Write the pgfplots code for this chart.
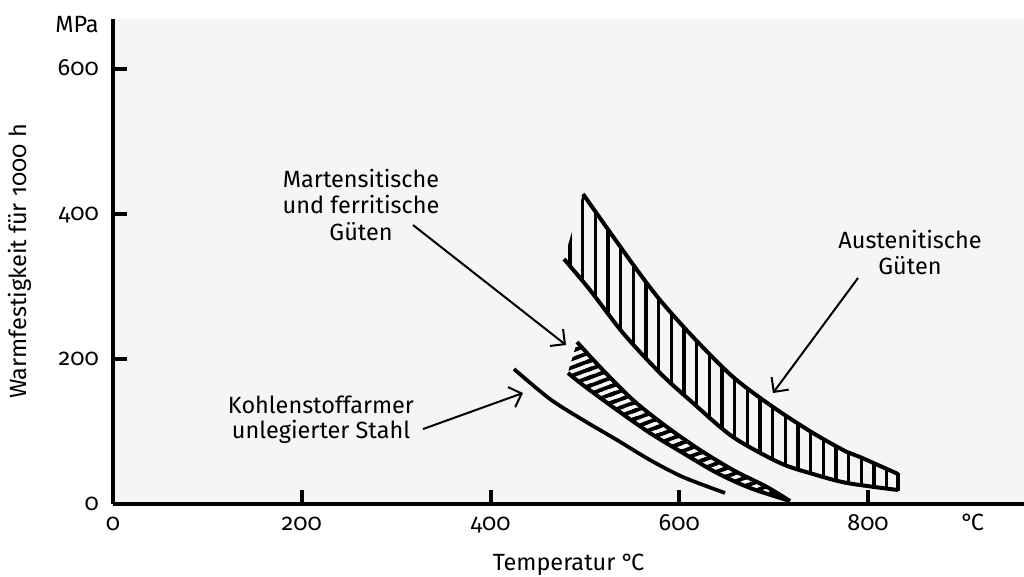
\documentclass[border=0pt]{standalone}
\usepackage{fontspec}
\setmainfont{Fira Sans}[Numbers=OldStyle]
\usepackage{pgfplots}
\pgfplotsset{compat=1.18}
\usepgfplotslibrary{fillbetween}
\usetikzlibrary{patterns,patterns.meta,arrows.meta}
\definecolor{bg}{HTML}{F5F5F5}
\pgfdeclarepatternformonly{mstripes}{\pgfpoint{-2pt}{-2pt}}{\pgfpoint{19pt}{8.2pt}}{\pgfpoint{17pt}{6.2pt}}{%
  \pgfsetlinewidth{2.7pt}%
  \pgfpathmoveto{\pgfpoint{-2pt}{-6.929pt}}\pgfpathlineto{\pgfpoint{19pt}{0.729pt}}%
  \pgfpathmoveto{\pgfpoint{-2pt}{-0.729pt}}\pgfpathlineto{\pgfpoint{19pt}{6.929pt}}%
  \pgfpathmoveto{\pgfpoint{-2pt}{5.471pt}}\pgfpathlineto{\pgfpoint{19pt}{13.129pt}}%
  \pgfusepath{stroke}}
\newcommand{\degC}{°\kern-0.12em C}
\begin{document}
\fontsize{17.6pt}{21pt}\selectfont
\begin{tikzpicture}
\begin{axis}[
  anchor=south west, at={(0pt,0pt)},
  scale only axis, width=683.25pt, height=363.75pt,
  xmin=0, xmax=965.3, ymin=0, ymax=669,
  clip=false,
  axis background/.style={fill=bg},
  axis lines=left, axis line style={-, line width=3pt, black},
  xtick={0,200,400,600,800}, ytick={0,200,400,600},
  tick align=inside, major tick length=10.5pt,
  tick style={line width=3pt, black},
  /pgf/number format/assume math mode=true,
  xticklabel style={anchor=base, inner sep=0pt, yshift=-19.5pt},
  yticklabel style={anchor=base east, inner sep=0pt, xshift=-10.5pt, yshift=-4.6pt},
  every axis x label/.style={at={(axis description cs:0.5,-0.138)}, anchor=base},
  every axis y label/.style={at={(axis description cs:-0.0944,0.5)}, rotate=90, anchor=base},
  xlabel={Temperatur \degC},
  ylabel={Warmfestigkeit für 1000 h},
]
% Austenitische Gueten
\addplot[name path=AU, line width=3pt, smooth] coordinates {
 (498.0,427.6) (549.9,332.4) (579.6,281.4) (614.6,230.3) (657.0,175.2)
 (699.3,133.8) (741.7,97.9) (777.7,71.7) (791.5,64.8) (831.8,41.4)};
\addplot[name path=AL, line width=3pt, smooth] coordinates {
 (477.9,337.9) (505.4,295.2) (540.4,235.9) (579.6,180.7) (614.6,139.3)
 (657.0,92.4) (706.8,56.6) (741.7,41.4) (777.7,29.0) (831.8,19.3)};
\addplot[pattern={Lines[angle=90,distance=9.5pt,line width=2.6pt]}, pattern color=black, draw=none]
  fill between[of=AU and AL];
\addplot[line width=3pt] coordinates {(831.8,42.5) (831.8,18.2)};
% Martensitische und ferritische Gueten
\addplot[name path=MU, line width=3pt, smooth] coordinates {
 (491.7,223.4) (516.0,189.0) (551.0,143.4) (587.0,106.2) (622.0,74.5)
 (657.0,46.9) (693.0,23.4) (717.3,4.1)};
\addplot[name path=ML, line width=3pt, smooth] coordinates {
 (482.1,180.7) (498.0,164.1) (534.0,129.7) (569.0,97.9) (604.0,70.3)
 (640.0,42.8) (675.0,22.1) (717.3,4.1)};
\addplot[pattern=mstripes, pattern color=black, draw=none]
  fill between[of=MU and ML];
% Kohlenstoffarmer unlegierter Stahl
\addplot[line width=2.8pt, smooth] coordinates {
 (424.9,186.2) (463.0,144.8) (498.0,115.9) (534.0,88.3) (569.0,60.7)
 (604.0,37.2) (648.5,15.2)};
% annotations
\node[anchor=base, inner sep=0pt] at (axis cs:262.8,437.2) {Martensitische};
\node[anchor=base, inner sep=0pt] at (axis cs:262.8,401.4) {und ferritische};
\node[anchor=base, inner sep=0pt] at (axis cs:262.8,364.1) {Güten};
\node[anchor=base, inner sep=0pt] at (axis cs:220.4,125.5) {Kohlenstoffarmer};
\node[anchor=base, inner sep=0pt] at (axis cs:220.4,91.0) {unlegierter Stahl};
\node[anchor=base, inner sep=0pt] at (axis cs:844.5,353.1) {Austenitische};
\node[anchor=base, inner sep=0pt] at (axis cs:844.5,315.9) {Güten};
\draw[line width=1.5pt, -{Straight Barb[length=8pt,width=16pt]}] (axis cs:317.9,384.8) -- (axis cs:480.0,219.3);
\draw[line width=1.5pt, -{Straight Barb[length=8pt,width=16pt]}] (axis cs:328.5,103.4) -- (axis cs:434.4,153.1);
\draw[line width=1.5pt, -{Straight Barb[length=8pt,width=16pt]}] (axis cs:789.4,311.7) -- (axis cs:699.3,153.1);
\node[anchor=base east, inner sep=0pt, xshift=-10.5pt] at (axis cs:0,649.7) {MPa};
\node[anchor=base, inner sep=0pt, yshift=-19.5pt] at (axis cs:911,0) {\degC};
\end{axis}
\pgfresetboundingbox
\path[use as bounding box] (-84.75pt,-54pt) rectangle (683.25pt,378pt);
\end{tikzpicture}
\end{document}
